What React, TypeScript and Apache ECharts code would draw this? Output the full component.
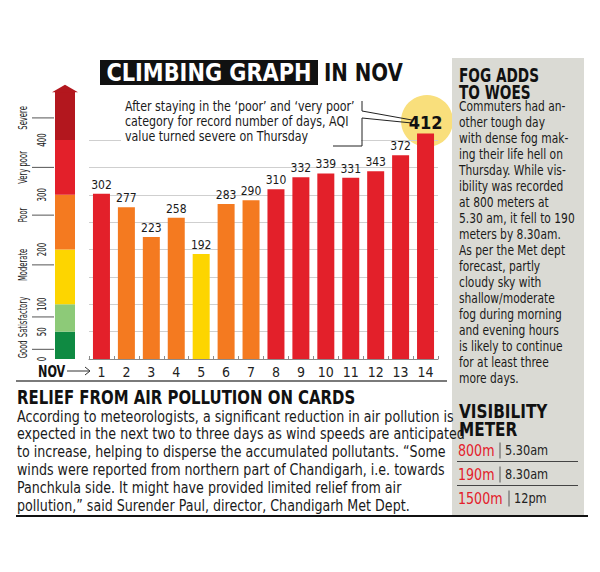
import React, { useEffect, useRef } from "react";
import * as echarts from "echarts";

const days = ["1", "2", "3", "4", "5", "6", "7", "8", "9", "10", "11", "12", "13", "14"];
const aqi = [302, 277, 223, 258, 192, 283, 290, 310, 332, 339, 331, 343, 372, 412];

const bandNames = ["Good", "Satisfactory", "Moderate", "Poor", "Very poor", "Severe"];
const bandBounds = [0, 50, 100, 200, 300, 400, 488];
const bandColors = ["#0f8a42", "#8dca78", "#fdd500", "#f47a20", "#e3202a", "#b3171e"];

const titleMain = "CLIMBING GRAPH";
const titleRest = "IN NOV";
const annotationLines = [
  "After staying in the \u2018poor\u2019 and \u2018very poor\u2019",
  "category for record number of days, AQI",
  "value turned severe on Thursday",
];
const reliefTitle = "RELIEF FROM AIR POLLUTION ON CARDS";
const reliefLines = [
  "According to meteorologists, a significant reduction in air pollution is",
  "expected in the next two to three days as wind speeds are anticipated",
  "to increase, helping to disperse the accumulated pollutants. \u201cSome",
  "winds were reported from northern part of Chandigarh, i.e. towards",
  "Panchkula side. It might have provided limited relief from air",
  "pollution,\u201d said Surender Paul, director, Chandigarh Met Dept.",
];
const fogTitle = ["FOG ADDS", "TO WOES"];
const fogLines = [
  "Commuters had an-",
  "other tough day",
  "with dense fog mak-",
  "ing their life hell on",
  "Thursday. While vis-",
  "ibility was recorded",
  "at 800 meters at",
  "5.30 am, it fell to 190",
  "meters by 8.30am.",
  "As per the Met dept",
  "forecast, partly",
  "cloudy sky with",
  "shallow/moderate",
  "fog during morning",
  "and evening hours",
  "is likely to continue",
  "for at least three",
  "more days.",
];
const visTitle = ["VISIBILITY", "METER"];
const visDistance = ["800m", "190m", "1500m"];
const visTime = ["5.30am", "8.30am", "12pm"];

const NARROW = "'Liberation Sans Narrow','DejaVu Sans Condensed','Roboto Condensed',Roboto,sans-serif";

function barColor(v: number): string {
  if (v >= bandBounds[4]) return bandColors[4];
  if (v >= bandBounds[3]) return bandColors[3];
  return bandColors[2];
}

function txt(x: number, y: number, text: string, o: any = {}): any {
  return {
    type: "text",
    x,
    y,
    z: o.z ?? 5,
    scaleX: o.scaleX ?? 1,
    style: {
      text,
      fontSize: o.fontSize ?? 14,
      fontWeight: o.fontWeight ?? "normal",
      fontFamily: NARROW,
      fill: o.fill ?? "#1a1a1a",
      align: o.align ?? "left",
      verticalAlign: "middle",
      lineHeight: o.lineHeight ?? o.fontSize ?? 14,
    },
  };
}

export default function App() {
  const ref = useRef<HTMLDivElement>(null);
  useEffect(() => {
    if (!ref.current) return;
    const chart = echarts.init(ref.current, null, { renderer: "svg" });

    const segData = bandNames.map((_, i) => [0, bandBounds[i], bandBounds[i + 1]]);

    const els: any[] = [];

    // title
    els.push({ type: "rect", z: 5, shape: { x: 100, y: 60, width: 218, height: 25 }, style: { fill: "#111" } });
    els.push(txt(209, 73, titleMain, { fontSize: 25, fontWeight: 900, fill: "#fff", align: "center", scaleX: 0.93, z: 6 }));
    els.push(txt(324, 73, titleRest, { fontSize: 25, fontWeight: 900, fill: "#111", scaleX: 0.88, z: 6 }));

    // highlight circle
    els.push({ type: "circle", z: -1, shape: { cx: 427, cy: 121, r: 26 }, style: { fill: "#f9df7c" } });

    // annotation
    els.push({ type: "rect", z: 1, shape: { x: 121, y: 97, width: 240, height: 47 }, style: { fill: "#fff" } });
    annotationLines.forEach((l, i) => {
      els.push(txt(125, 106.5 + i * 15, l, { fontSize: 14, scaleX: 0.88, z: 2 }));
    });
    els.push({ type: "polyline", z: 2, shape: { points: [[362, 101], [362, 111], [412, 120]] }, style: { stroke: "#222", lineWidth: 1, fill: null } });
    els.push({ type: "polyline", z: 2, shape: { points: [[333, 146], [362, 146], [362, 118], [412, 123]] }, style: { stroke: "#222", lineWidth: 1, fill: null } });

    // NOV arrow
    els.push(txt(38, 371, "NOV", { fontSize: 16, fontWeight: "bold", fill: "#111", scaleX: 0.78 }));
    els.push({ type: "line", z: 5, shape: { x1: 67, y1: 371, x2: 90, y2: 371 }, style: { stroke: "#333", lineWidth: 1 } });
    els.push({ type: "polyline", z: 5, shape: { points: [[85, 367], [90, 371], [85, 375]] }, style: { stroke: "#333", lineWidth: 1, fill: null } });

    // separator
    els.push({ type: "line", z: 5, shape: { x1: 16, y1: 381, x2: 447, y2: 381 }, style: { stroke: "#7a7a7a", lineWidth: 2 } });

    // relief section
    els.push(txt(17, 397, reliefTitle, { fontSize: 20, fontWeight: 900, fill: "#111", scaleX: 0.83 }));
    reliefLines.forEach((l, i) => {
      els.push(txt(17, 416 + i * 17.8, l, { fontSize: 15, scaleX: 0.94 }));
    });

    // right panel
    els.push({ type: "rect", z: 4, shape: { x: 452, y: 58, width: 132, height: 458 }, style: { fill: "#dadad4" } });
    fogTitle.forEach((l, i) => {
      els.push(txt(459, 75.5 + i * 16.5, l, { fontSize: 20, fontWeight: 900, fill: "#111", scaleX: 0.76 }));
    });
    fogLines.forEach((l, i) => {
      els.push(txt(459, 106.5 + i * 16, l, { fontSize: 14.5, scaleX: 0.82 }));
    });
    visTitle.forEach((l, i) => {
      els.push(txt(459, 411 + i * 17.5, l, { fontSize: 20, fontWeight: 900, fill: "#111", scaleX: 0.85 }));
    });
    visDistance.forEach((d, i) => {
      const cy = 450.5 + i * 24;
      const sepX = 459 + (d.length >= 5 ? 50 : 41);
      els.push(txt(458, cy, d, { fontSize: 16, fill: "#e3202a", scaleX: 0.88 }));
      els.push({ type: "line", z: 5, shape: { x1: sepX, y1: cy - 8, x2: sepX, y2: cy + 8 }, style: { stroke: "#555", lineWidth: 1 } });
      els.push(txt(sepX + 5, cy, visTime[i], { fontSize: 14, fill: "#222", scaleX: 0.9 }));
      if (i < visDistance.length - 1) {
        els.push({ type: "line", z: 5, shape: { x1: 457, y1: cy + 11, x2: 578, y2: cy + 11 }, style: { stroke: "#444", lineWidth: 1 } });
      }
    });

    // bottom rule
    els.push({ type: "line", z: 6, shape: { x1: 16, y1: 516, x2: 588, y2: 516 }, style: { stroke: "#111", lineWidth: 2 } });

    // fine placement of the rotated band names (pixels, relative to band centre)
    const labelNudge = [4, -1, -12, -7, 0, 2];

    const option: any = {
      animation: false,
      backgroundColor: "#ffffff",
      grid: [
        { left: 89, right: 162, top: 140, bottom: 213 },
        { left: 55, width: 20, top: 140, bottom: 213 },
      ],
      xAxis: [
        {
          type: "category",
          gridIndex: 0,
          data: days,
          axisLine: { lineStyle: { color: "#8a8a8a", width: 1 } },
          axisTick: { show: true, inside: true, length: 3, lineStyle: { color: "#8a8a8a" } },
          axisLabel: { fontSize: 14, color: "#222", margin: 6, fontFamily: NARROW },
        },
        { type: "category", gridIndex: 1, data: ["scale"], show: false },
      ],
      yAxis: [
        {
          type: "value",
          gridIndex: 0,
          min: 0,
          max: 400,
          interval: 50,
          axisLabel: { show: false },
          axisLine: { show: false },
          axisTick: { show: false },
          splitLine: { lineStyle: { color: "#cfcfcf", width: 1 } },
        },
        { type: "value", gridIndex: 1, min: 0, max: 400, show: false },
      ],
      series: [
        {
          type: "bar",
          xAxisIndex: 0,
          yAxisIndex: 0,
          barWidth: 17,
          clip: false,
          z: 3,
          data: aqi.map((v, i) => {
            const item: any = { value: v, itemStyle: { color: barColor(v) } };
            if (i === aqi.length - 1) {
              item.label = { fontSize: 18, fontWeight: "bold", color: "#111", distance: 2 };
            }
            return item;
          }),
          label: {
            show: true,
            position: "top",
            distance: 3,
            fontSize: 12,
            color: "#1a1a1a",
            fontFamily: NARROW,
          },
        },
        {
          type: "custom",
          xAxisIndex: 1,
          yAxisIndex: 1,
          clip: false,
          z: 3,
          encode: { x: 0, y: 1 },
          data: segData,
          renderItem: (params: any, api: any) => {
            const i = params.dataIndex;
            const s = api.value(1);
            const e = api.value(2);
            const pS = api.coord([0, s]);
            const pE = api.coord([0, e]);
            const w = api.size([1, 0])[0];
            const x0 = pS[0] - w / 2;
            const midY = (pS[1] + pE[1]) / 2 + labelNudge[i];
            const children: any[] = [
              {
                type: "rect",
                shape: { x: x0, y: pE[1], width: w, height: pS[1] - pE[1] },
                style: { fill: bandColors[i] },
              },
              {
                type: "line",
                shape: { x1: x0 - 23, y1: midY, x2: x0 - 1, y2: midY },
                style: { stroke: "#555", lineWidth: 1 },
              },
              {
                type: "text",
                x: x0 - 32,
                y: midY,
                rotation: Math.PI / 2,
                scaleX: 0.63,
                style: {
                  text: bandNames[i],
                  align: "center",
                  verticalAlign: "middle",
                  fontSize: 12,
                  fill: "#222",
                  fontFamily: NARROW,
                },
              },
              {
                type: "text",
                x: x0 - 13,
                y: pS[1],
                rotation: Math.PI / 2,
                scaleX: 0.66,
                style: {
                  text: String(s),
                  align: "center",
                  verticalAlign: "middle",
                  fontSize: 12,
                  fill: "#222",
                  fontFamily: NARROW,
                },
              },
            ];
            if (i === bandNames.length - 1) {
              children.push({
                type: "polygon",
                shape: {
                  points: [
                    [x0 - 3, pE[1] + 0.5],
                    [x0 + w + 3, pE[1] + 0.5],
                    [x0 + w / 2, pE[1] - 7],
                  ],
                },
                style: { fill: bandColors[i] },
              });
            }
            return { type: "group", children };
          },
        },
      ],
      graphic: { elements: els },
    };

    chart.setOption(option);
    return () => chart.dispose();
  }, []);

  return (
    <div
      ref={ref}
      style={{ position: "fixed", left: 0, top: 0, width: 600, height: 572, background: "#fff" }}
    />
  );
}
